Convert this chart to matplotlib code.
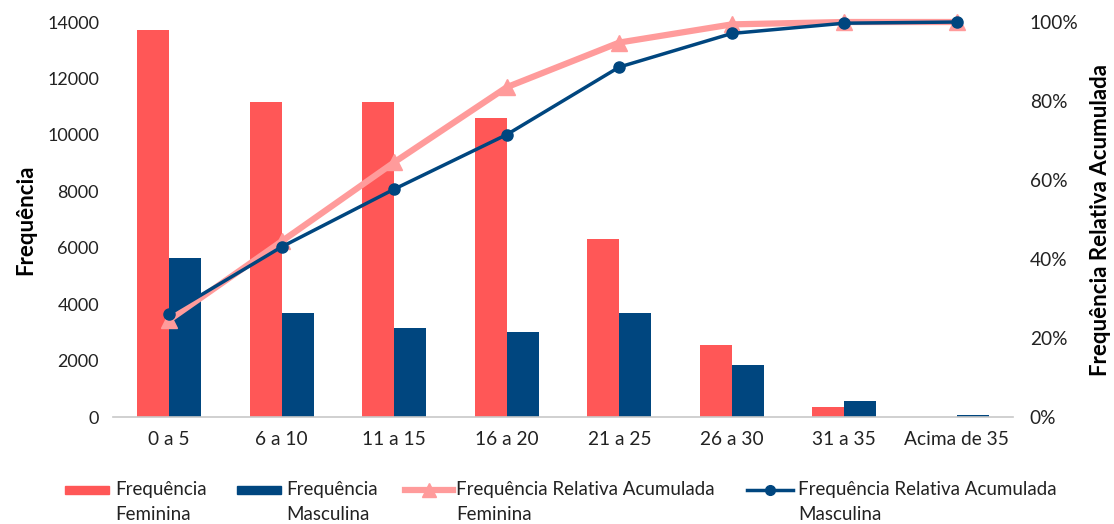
import matplotlib.pyplot as plt
from matplotlib.lines import Line2D
from matplotlib.patches import Rectangle
import numpy as np

plt.rcParams["font.family"] = ["Lato", "DejaVu Sans"]

categories = ["0 a 5", "6 a 10", "11 a 15", "16 a 20", "21 a 25", "26 a 30", "31 a 35", "Acima de 35"]
freq_fem = [13700, 11150, 11150, 10600, 6300, 2550, 350, 0]
freq_masc = [5650, 3700, 3150, 3000, 3700, 1850, 570, 60]
cum_fem = [0.246, 0.445, 0.645, 0.835, 0.948, 0.994, 1.0, 1.0]
cum_masc = [0.261, 0.431, 0.577, 0.715, 0.886, 0.971, 0.997, 1.0]

C_FEM = "#FF5757"
C_MASC = "#00467F"
C_FEM_LINE = "#FF9B9B"
TXT = "#222222"

W, H = 1114, 524


def fx(px):
    return px / W


def fy(py):
    return (H - py) / H


def main():
    fig = plt.figure(figsize=(W / 100, H / 100), dpi=100)
    ax = fig.add_axes([0.1014, 0.204, 0.808, 0.754])
    x = np.arange(len(categories))
    w = 0.285

    ax.bar(x - w / 2, freq_fem, width=w, color=C_FEM, zorder=2)
    ax.bar(x + w / 2, freq_masc, width=w, color=C_MASC, zorder=2)

    ax.set_xlim(-0.5, len(categories) - 0.5)
    ax.set_ylim(0, 14000)
    ax.set_yticks(range(0, 14001, 2000))
    ax.set_xticks(x)
    ax.set_xticklabels(categories)
    ax.tick_params(axis="both", length=0, labelcolor=TXT)
    ax.tick_params(axis="x", pad=10, labelsize=13.8)
    ax.tick_params(axis="y", pad=10, labelsize=13)
    for s in ["top", "left", "right"]:
        ax.spines[s].set_visible(False)
    ax.spines["bottom"].set_color("#C8C8C8")
    ax.spines["bottom"].set_linewidth(1.2)
    ax.set_ylabel("Frequência", fontsize=16, fontweight="bold", labelpad=8)

    ax2 = ax.twinx()
    ax2.plot(x, cum_fem, color=C_FEM_LINE, lw=4.5, marker="^", markersize=12, zorder=3, clip_on=False)
    ax2.plot(x, cum_masc, color=C_MASC, lw=2.5, marker="o", markersize=8, zorder=4, clip_on=False)
    ax2.set_ylim(0, 1.0)
    ticks = np.linspace(0, 1, 6)
    ax2.set_yticks(ticks)
    ax2.set_yticklabels([f"{int(round(v * 100))}%" for v in ticks])
    ax2.tick_params(axis="y", length=0, labelsize=13.8, labelcolor=TXT, pad=12)
    for s in ["top", "left", "right", "bottom"]:
        ax2.spines[s].set_visible(False)
    ax2.set_ylabel("Frequência Relativa Acumulada", fontsize=16, fontweight="bold", labelpad=8)

    # legend drawn by hand so the key sits on the first text line
    ly1, ly2 = 490, 515
    fig.patches.append(Rectangle((fx(65), fy(ly1 + 4)), fx(44), 8 / H, color=C_FEM,
                                 transform=fig.transFigure, figure=fig))
    fig.patches.append(Rectangle((fx(237), fy(ly1 + 4)), fx(44), 8 / H, color=C_MASC,
                                 transform=fig.transFigure, figure=fig))
    fig.lines.append(Line2D([fx(405), fx(453)], [fy(ly1), fy(ly1)], color=C_FEM_LINE, lw=4.5,
                            transform=fig.transFigure, figure=fig))
    fig.lines.append(Line2D([fx(429)], [fy(ly1)], color=C_FEM_LINE, marker="^", markersize=10,
                            transform=fig.transFigure, figure=fig))
    fig.lines.append(Line2D([fx(747), fx(793)], [fy(ly1), fy(ly1)], color=C_MASC, lw=2.5,
                            transform=fig.transFigure, figure=fig))
    fig.lines.append(Line2D([fx(770)], [fy(ly1)], color=C_MASC, marker="o", markersize=7,
                            transform=fig.transFigure, figure=fig))

    entries = [
        (115, "Frequência", "Feminina"),
        (286, "Frequência", "Masculina"),
        (456, "Frequência Relativa Acumulada", "Feminina"),
        (798, "Frequência Relativa Acumulada", "Masculina"),
    ]
    for px, l1, l2 in entries:
        fig.text(fx(px), fy(ly1), l1, fontsize=13.5, color=TXT, ha="left", va="center")
        fig.text(fx(px), fy(ly2), l2, fontsize=13.5, color=TXT, ha="left", va="center")

    fig.savefig("out.png", dpi=100)


if __name__ == "__main__":
    main()
